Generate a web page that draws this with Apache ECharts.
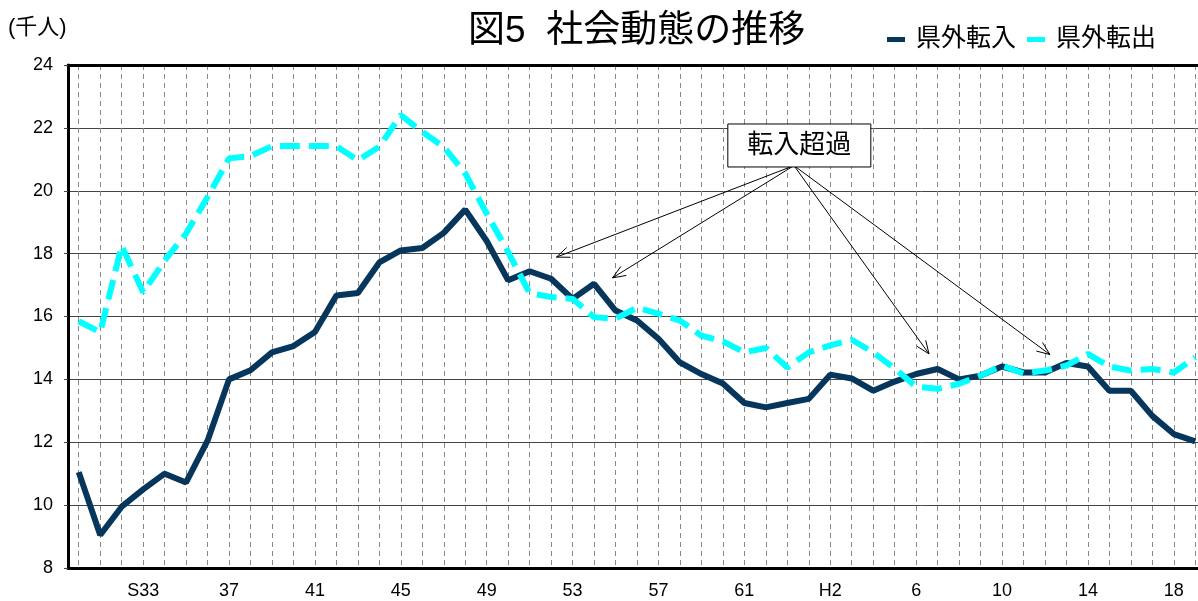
<!DOCTYPE html>
<html>
<head>
<meta charset="utf-8">
<title>図5 社会動態の推移</title>
<script src="https://cdn.jsdelivr.net/npm/echarts@6.0.0/dist/echarts.min.js"></script>
<style>
  html, body { margin: 0; padding: 0; background: #fff; overflow: hidden; }
  /* 右端は元図と同じく枠外で切れる */
  #main { width: 1214px; height: 601px; }
</style>
</head>
<body>
<div id="main"></div>
<script>
// 年次 (S30〜H19)
const years = [
  'S30', 'S31', 'S32', 'S33', 'S34', 'S35', 'S36', 'S37', 'S38', 'S39',
  'S40', 'S41', 'S42', 'S43', 'S44', 'S45', 'S46', 'S47', 'S48', 'S49',
  'S50', 'S51', 'S52', 'S53', 'S54', 'S55', 'S56', 'S57', 'S58', 'S59',
  'S60', 'S61', 'S62', 'S63', 'H1', 'H2', 'H3', 'H4', 'H5', 'H6',
  'H7', 'H8', 'H9', 'H10', 'H11', 'H12', 'H13', 'H14', 'H15', 'H16',
  'H17', 'H18', 'H19'
]

// 軸に表示するラベル
const tickLabels = {
  S33: 'S33', S37: '37', S41: '41', S45: '45', S49: '49', S53: '53', S57: '57',
  S61: '61', H2: 'H2', H6: '6', H10: '10', H14: '14', H18: '18'
}

// 県外転入 (千人)
const inflow = [
  11.05, 9.05, 9.95, 10.5, 11.0, 10.72, 12.05, 14.0, 14.29, 14.86,
  15.06, 15.51, 16.67, 16.75, 17.72, 18.1, 18.18, 18.66, 19.4, 18.4,
  17.15, 17.44, 17.2, 16.56, 17.04, 16.19, 15.87, 15.29, 14.54, 14.17,
  13.87, 13.25, 13.11, 13.25, 13.38, 14.15, 14.03, 13.64, 13.93, 14.17,
  14.33, 14.0, 14.12, 14.41, 14.22, 14.22, 14.52, 14.41, 13.64, 13.64,
  12.84, 12.26, 12.03
]

// 県外転出 (千人)
const outflow = [
  15.85, 15.5, 18.25, 16.77, 17.78, 18.64, 19.8, 21.03, 21.1, 21.42,
  21.42, 21.42, 21.42, 20.97, 21.4, 22.41, 21.87, 21.4, 20.55, 19.27,
  18.05, 16.74, 16.62, 16.56, 15.98, 15.93, 16.28, 16.09, 15.87, 15.39,
  15.21, 14.86, 15.0, 14.38, 14.86, 15.08, 15.26, 14.86, 14.35, 13.77,
  13.7, 13.86, 14.12, 14.44, 14.19, 14.28, 14.44, 14.81, 14.41, 14.28,
  14.33, 14.22, 14.7
]

// 「転入超過」の注記 (x はカテゴリ番号, y は千人)
const noteBox = [33.56, 21.44]
const noteFrom = [33.31, 20.8]
const noteTips = [[22.25, 17.89], [24.86, 17.23], [39.6, 14.81], [45.23, 14.79]]

const FONT = "'Liberation Sans', 'Noto Sans CJK JP', sans-serif"
const NAVY = '#06365c'
const CYAN = '#00ffff'

const chart = echarts.init(document.getElementById('main'))

const option = {
  animation: false,
  textStyle: { fontFamily: FONT },
  title: {
    text: '図5  社会動態の推移',
    left: 468,
    top: 13,
    padding: 0,
    textStyle: { fontSize: 37, fontWeight: 'normal', color: '#000', fontFamily: FONT }
  },
  legend: {
    data: ['県外転入', '県外転出'],
    left: 887,
    top: 27,
    padding: 0,
    icon: 'rect',
    itemWidth: 18,
    itemHeight: 5,
    itemGap: 11,
    textStyle: { fontSize: 25, color: '#000', fontFamily: FONT, padding: [0, 0, 0, 6] }
  },
  grid: { left: 68, top: 65, width: 1138, height: 503 },
  xAxis: [
    {
      type: 'category',
      data: years,
      boundaryGap: true,
      axisLine: { onZero: false, lineStyle: { color: '#000', width: 3 } },
      axisTick: { show: false },
      axisLabel: {
        interval: 0,
        margin: 14,
        fontSize: 18,
        color: '#000',
        formatter: (v) => tickLabels[v] || ''
      },
      splitLine: {
        show: true,
        interval: 0,
        alignWithLabel: true,
        lineStyle: { color: '#8a8a8a', width: 1, type: [5, 4] }
      }
    },
    {
      // 注記用・上枠
      type: 'value',
      position: 'top',
      min: -0.5,
      max: 52.5,
      axisLine: { show: true, onZero: false, lineStyle: { color: '#000', width: 3 } },
      axisTick: { show: false },
      axisLabel: { show: false },
      splitLine: { show: false }
    }
  ],
  yAxis: {
    type: 'value',
    min: 8,
    max: 24,
    interval: 2,
    axisLine: { show: true, onZero: false, lineStyle: { color: '#000', width: 3 } },
    axisTick: { show: true, length: 4, lineStyle: { color: '#444' } },
    axisLabel: { fontSize: 18, color: '#000', margin: 15 },
    splitLine: { lineStyle: { color: '#444', width: 1 } }
  },
  series: [
    {
      name: '県外転入',
      type: 'line',
      data: inflow,
      symbol: 'none',
      lineStyle: { color: NAVY, width: 6 },
      itemStyle: { color: NAVY }
    },
    {
      name: '県外転出',
      type: 'line',
      data: outflow,
      symbol: 'none',
      lineStyle: { color: CYAN, width: 6, type: [20, 9] },
      itemStyle: { color: CYAN }
    }
  ]
}

chart.setOption(option)

// 注記を描く
const toPx = (p) => chart.convertToPixel({ xAxisIndex: 1, yAxisIndex: 0 }, p)

const buildGraphics = () => {
  const items = [
    {
      type: 'text',
      left: 8,
      top: 17,
      style: { text: '(千人)', fontSize: 22, fill: '#000', fontFamily: FONT }
    }
  ]
  const s = toPx(noteFrom)
  noteTips.forEach((tip) => {
    const t = toPx(tip)
    const dx = t[0] - s[0]
    const dy = t[1] - s[1]
    const len = Math.sqrt(dx * dx + dy * dy)
    const ux = dx / len
    const uy = dy / len
    const a = 22 * Math.PI / 180
    const L = 14
    const arm = (ang) => [
      t[0] - L * (ux * Math.cos(ang) - uy * Math.sin(ang)),
      t[1] - L * (ux * Math.sin(ang) + uy * Math.cos(ang))
    ]
    items.push({
      type: 'line',
      z: 10,
      shape: { x1: s[0], y1: s[1], x2: t[0], y2: t[1] },
      style: { stroke: '#000', lineWidth: 1 }
    })
    items.push({
      type: 'polyline',
      z: 10,
      shape: { points: [arm(a), t, arm(-a)] },
      style: { stroke: '#000', lineWidth: 1, fill: null }
    })
  })
  const c = toPx(noteBox)
  items.push({
    type: 'rect',
    z: 11,
    shape: { x: c[0] - 71.5, y: c[1] - 21.5, width: 143, height: 43 },
    style: { fill: '#fff', stroke: '#000', lineWidth: 1 }
  })
  items.push({
    type: 'text',
    z: 12,
    x: c[0],
    y: c[1],
    style: {
      text: '転入超過',
      fontSize: 26,
      fill: '#000',
      fontFamily: FONT,
      align: 'center',
      verticalAlign: 'middle'
    }
  })
  return items
}

chart.setOption({ graphic: buildGraphics() })

window.addEventListener('resize', () => chart.resize())
</script>
</body>
</html>
